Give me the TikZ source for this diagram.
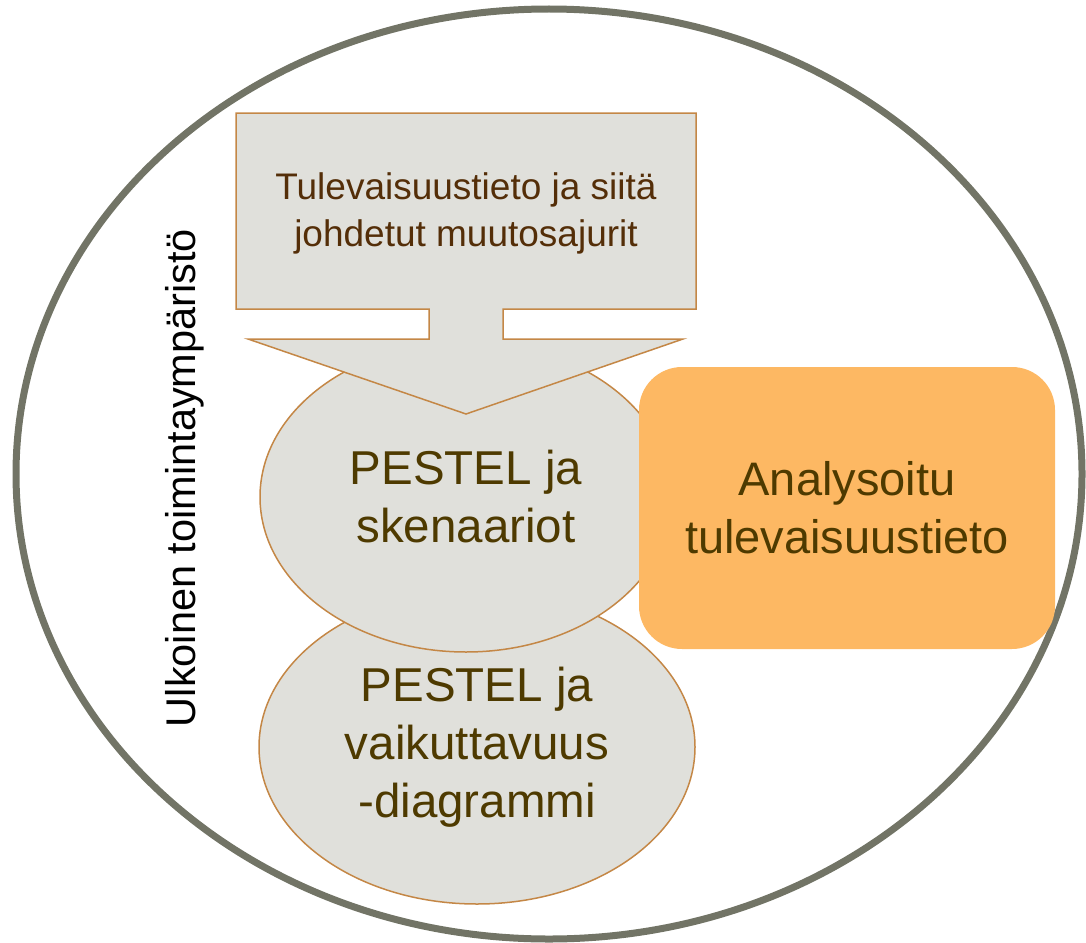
\documentclass[tikz,border=0pt]{standalone}
\usepackage{fontspec}
\setmainfont{Liberation Sans}
\usetikzlibrary{shapes.geometric}

\definecolor{ringgray}{RGB}{114,116,102}
\definecolor{boxfill}{RGB}{224,224,219}
\definecolor{boxline}{RGB}{196,135,70}
\definecolor{orangefill}{RGB}{253,184,99}
\definecolor{txtbrown}{RGB}{84,46,8}
\definecolor{txtolive}{RGB}{78,58,0}

\begin{document}
\begin{tikzpicture}[
    x=1pt, y=-1pt,
    ring/.style={draw=ringgray, line width=7pt},
    blob/.style={ellipse, draw=boxline, line width=1.5pt, fill=boxfill, inner sep=0pt,
        align=center, text=txtolive, font=\fontsize{47.5}{58}\selectfont},
    callout/.style={draw=boxline, line width=1.5pt, fill=boxfill, line join=miter},
    result/.style={rectangle, rounded corners=43pt, fill=orangefill, inner sep=0pt,
        align=center, text=txtolive, font=\fontsize{47}{58}\selectfont}
]
    \useasboundingbox (0,0) rectangle (1086,942);

    % --- Outer environment ---
    \draw[ring] (549,474) ellipse [x radius=533, y radius=465];
    \node[rotate=90, anchor=base, font=\fontsize{41.5}{50}\selectfont] (env) at (195,478)
        {Ulkoinen toimintaympäristö};

    % --- Analysis ellipses ---
    \node[blob, minimum width=436pt, minimum height=314pt] (impact) at (477,747)
        {PESTEL ja\\vaikuttavuus\\-diagrammi};
    \node[blob, minimum width=412pt, minimum height=310pt] (scen) at (466,497)
        {PESTEL ja\\skenaariot};

    % --- Input callout ---
    \draw[callout] (236,113) -- (696,113) -- (696,309) -- (503,309) -- (503,339)
        -- (683,339) -- (466,414) -- (248,339) -- (429,339) -- (429,309)
        -- (236,309) -- cycle;
    \node[align=center, text=txtbrown, font=\fontsize{37}{47}\selectfont] (drivers) at (466,213)
        {Tulevaisuustieto ja siitä\\johdetut muutosajurit};

    % --- Output ---
    \node[result, minimum width=416pt, minimum height=282pt] (result) at (847,508)
        {Analysoitu\\tulevaisuustieto};

\end{tikzpicture}
\end{document}
